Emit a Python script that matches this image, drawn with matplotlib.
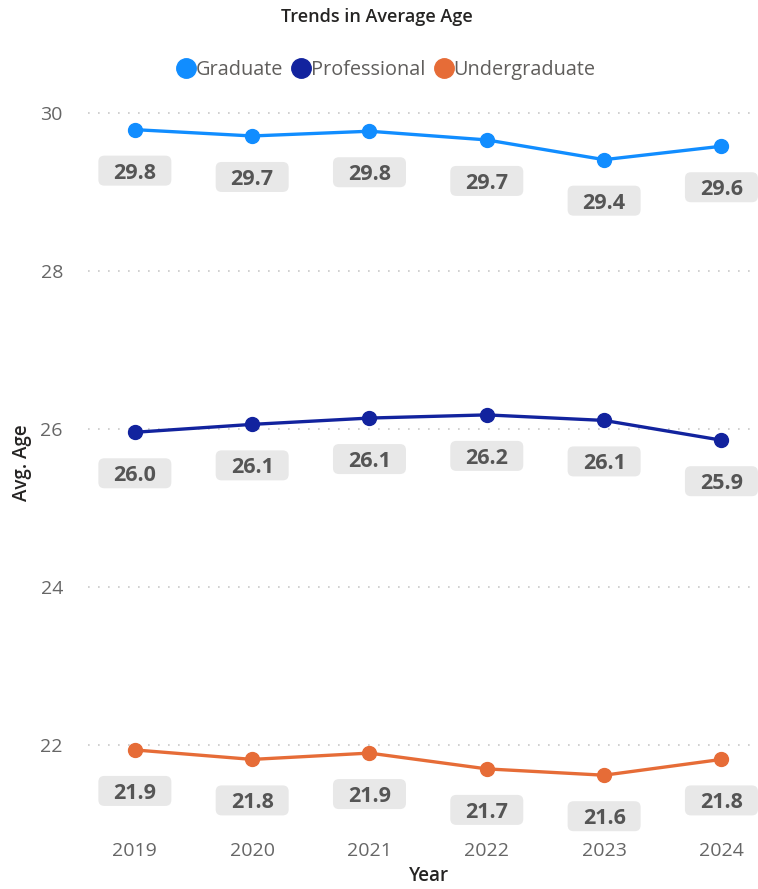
import numpy as np
import matplotlib.pyplot as plt
from matplotlib.lines import Line2D
from matplotlib.patches import FancyBboxPatch
from matplotlib.transforms import ScaledTranslation

years = ['2019', '2020', '2021', '2022', '2023', '2024']
graduate = [29.79, 29.71, 29.77, 29.66, 29.41, 29.58]
professional = [25.96, 26.06, 26.14, 26.18, 26.11, 25.86]
undergraduate = [21.94, 21.82, 21.90, 21.70, 21.62, 21.82]
y_ticks = [22, 24, 26, 28, 30]

series = [('Graduate', graduate, '#118DFF'),
          ('Professional', professional, '#12239E'),
          ('Undergraduate', undergraduate, '#E66C37')]

plt.rcParams['font.family'] = ['Open Sans', 'DejaVu Sans']

fig = plt.figure(figsize=(7.58, 8.89), dpi=100)
ax = fig.add_axes([0.116, 0.072, 0.876, 0.8155])

# label box size / offset in inches (dpi 100)
bw, bh, off = 0.73, 0.30, 0.41

x = np.arange(len(years))
for name, vals, col in series:
    ax.plot(x, vals, '-o', color=col, lw=2.4, ms=10, label=name, zorder=3)
    for xi, v in zip(x, vals):
        tr = fig.dpi_scale_trans + ScaledTranslation(xi, v, ax.transData)
        box = FancyBboxPatch((-bw / 2, -off - bh / 2), bw, bh,
                             boxstyle='round,pad=0,rounding_size=0.06',
                             fc='#e8e8e8', ec='none', transform=tr, zorder=4, clip_on=False)
        ax.add_patch(box)
        ax.text(0, -off, f'{v:.1f}', transform=tr, ha='center', va='center_baseline',
                fontsize=15.5, fontweight='bold', color='#555555', zorder=5)

ax.set_xlim(-0.4, 5.26)
ax.set_ylim(20.99, 30.165)
ax.set_xticks(x)
ax.set_xticklabels(years)
ax.set_yticks(y_ticks)
ax.tick_params(axis='both', length=0, labelsize=14, labelcolor='#666666')
ax.tick_params(axis='x', pad=12)
ax.tick_params(axis='y', pad=18)
for s in ax.spines.values():
    s.set_visible(False)
ax.grid(axis='y', color='#c8c8c8', linestyle=(0, (1, 5)), lw=1.2)
ax.set_axisbelow(True)

ax.set_xlabel('Year', fontsize=13.5, color='#252423', fontweight='semibold', va='center')
ax.set_ylabel('Avg. Age', fontsize=13.5, color='#252423', fontweight='semibold', va='center')
ax.xaxis.set_label_coords(0.513, -0.07)
ax.yaxis.set_label_coords(-0.1, 0.5)

fig.text(0.497, 0.981, 'Trends in Average Age', ha='center', va='center',
         fontsize=13, color='#252423', fontweight='semibold')

handles = [Line2D([], [], marker='o', ls='none', ms=14, color=c) for _, _, c in series]
fig.legend(handles, [n for n, _, _ in series], loc='center', bbox_to_anchor=(0.509, 0.921),
           ncol=3, frameon=False, fontsize=14.3, labelcolor='#605E5C',
           handletextpad=0.0, columnspacing=0.4, handlelength=1.0)

fig.savefig('out.png', dpi=100)
